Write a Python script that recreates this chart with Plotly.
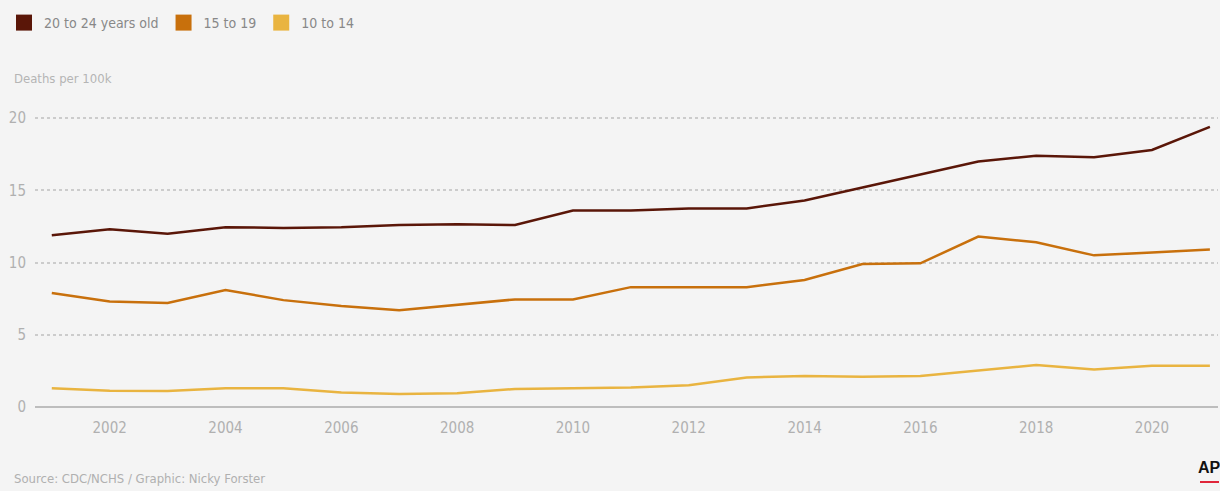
import plotly.graph_objects as go

years = list(range(2001, 2022))
age_20_24 = [11.9, 12.3, 12.0, 12.45, 12.4, 12.45, 12.6, 12.65, 12.6, 13.6, 13.6,
             13.75, 13.75, 14.3, 15.2, 16.1, 17.0, 17.4, 17.3, 17.8, 19.4]
age_15_19 = [7.9, 7.3, 7.2, 8.1, 7.4, 7.0, 6.7, 7.1, 7.45, 7.45, 8.3,
             8.3, 8.3, 8.8, 9.9, 9.95, 11.8, 11.4, 10.5, 10.7, 10.9]
age_10_14 = [1.3, 1.13, 1.1, 1.3, 1.3, 1.0, 0.9, 0.95, 1.25, 1.3, 1.35,
             1.5, 2.05, 2.15, 2.1, 2.15, 2.5, 2.9, 2.6, 2.85, 2.85]

series_names = ["20 to 24 years old", "15 to 19", "10 to 14"]
series_values = [age_20_24, age_15_19, age_10_14]
colors = ["#5a1608", "#c8700c", "#e9b440"]
x_ticks = list(range(2002, 2021, 2))
y_ticks = [0, 5, 10, 15, 20]

W, H = 1220, 491
ml, mr, mt, mb = 35, 2, 116, 84
pw, ph = W - ml - mr, H - mt - mb

fig = go.Figure()
for name, vals, col in zip(series_names, series_values, colors):
    fig.add_trace(go.Scatter(x=years, y=vals, mode="lines", name=name,
                             line=dict(color=col, width=2.5), showlegend=False,
                             hoverinfo="x+y"))
for name, col in zip(series_names, colors):
    fig.add_trace(go.Scatter(x=[None], y=[None], mode="markers", name=name,
                             marker=dict(symbol="square", size=24, color=col),
                             showlegend=True))

font_family = "Liberation Sans Narrow, DejaVu Sans Condensed, Roboto, sans-serif"

fig.update_layout(
    width=W, height=H,
    margin=dict(l=ml, r=mr, t=mt, b=mb),
    paper_bgcolor="#f4f4f4", plot_bgcolor="#f4f4f4",
    font=dict(family=font_family, size=13, color="#aaaaaa"),
    legend=dict(orientation="h", x=(4 - ml) / pw, xanchor="left", y=(H - 7) / H, yref="container",
                yanchor="top", font=dict(size=14, color="#888888"),
                itemwidth=30, tracegroupgap=0, bgcolor="rgba(0,0,0,0)"),
    xaxis=dict(range=[2000.71, 2021.14], tickvals=x_ticks, ticktext=[str(t) for t in x_ticks],
               showgrid=False, zeroline=False, showline=False, ticks="",
               ticklabelstandoff=10,
               tickfont=dict(size=15, color="#b0b0b0")),
    yaxis=dict(range=[0, 20.15], tickvals=y_ticks, showgrid=True, gridcolor="#cccccc",
               griddash="dot", gridwidth=1.5, zeroline=True, zerolinecolor="#bdbdbd",
               zerolinewidth=2, ticks="", ticklabelstandoff=8,
               tickfont=dict(size=15, color="#b0b0b0")),
    showlegend=True,
)

fig.add_annotation(text="Deaths per 100k", xref="paper", yref="paper",
                   x=(12 - ml) / pw, y=1 + 38 / ph,
                   xanchor="left", yanchor="middle", showarrow=False,
                   font=dict(size=13, color="#b5b5b5"))
fig.add_annotation(text="Source: CDC/NCHS / Graphic: Nicky Forster", xref="paper", yref="paper",
                   x=(12 - ml) / pw, y=-(478 - (H - mb)) / ph,
                   xanchor="left", yanchor="middle", showarrow=False,
                   font=dict(size=13, color="#b0b0b0"))
fig.add_annotation(text="<b>AP</b>", xref="paper", yref="paper",
                   x=(1196 - ml) / pw, y=-(467 - (H - mb)) / ph,
                   xanchor="left", yanchor="middle", showarrow=False,
                   font=dict(size=16, color="#111111", family="Liberation Sans, Arial"))
fig.add_shape(type="line", xref="paper", yref="paper",
              x0=(1200 - ml) / pw, x1=(1219 - ml) / pw,
              y0=-(482 - (H - mb)) / ph, y1=-(482 - (H - mb)) / ph,
              line=dict(color="#e0263a", width=2))

fig.write_html("out.html", config={"displayModeBar": False},
               post_script="document.body.style.margin='0';document.body.style.padding='0';")
